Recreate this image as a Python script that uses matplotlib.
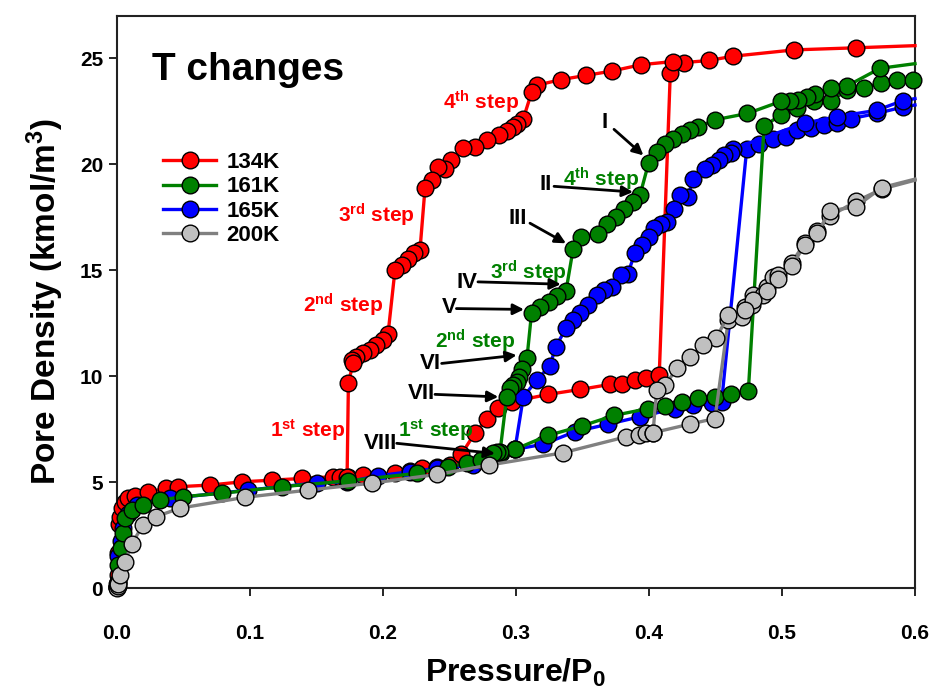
import matplotlib
matplotlib.use('Agg')
import matplotlib.pyplot as plt
from matplotlib.lines import Line2D

plt.rcParams['font.family'] = ['Liberation Sans', 'DejaVu Sans']
plt.rcParams['font.weight'] = 'bold'
plt.rcParams['mathtext.fontset'] = 'custom'
plt.rcParams['mathtext.rm'] = 'Liberation Sans:bold'
plt.rcParams['mathtext.bf'] = 'Liberation Sans:bold'
plt.rcParams['mathtext.it'] = 'Liberation Sans:bold'

# ---------------- data ----------------
labels = ['134K', '161K', '165K', '200K']

# 134 K
x134a = [0.0, 0.0003, 0.0006, 0.001, 0.0015, 0.0023, 0.0035, 0.006, 0.0085, 0.0135, 0.0235, 0.037,
         0.046, 0.07, 0.0937, 0.1163, 0.1389, 0.1627, 0.1677, 0.1737, 0.1852, 0.209, 0.2203, 0.229,
         0.2404, 0.25, 0.259, 0.269, 0.2784, 0.2867, 0.2967, 0.3243, 0.348, 0.3707, 0.380, 0.3895,
         0.398, 0.4077, 0.416]
y134a = [0.05, 0.2, 0.6, 1.64, 3.0, 3.36, 3.76, 4.07, 4.23, 4.34, 4.54, 4.7,
         4.78, 4.86, 5.01, 5.09, 5.17, 5.25, 5.25, 5.25, 5.33, 5.41, 5.54, 5.65,
         5.72, 5.8, 6.32, 7.3, 8.0, 8.48, 8.79, 9.14, 9.37, 9.61, 9.61, 9.81,
         9.89, 10.05, 24.3]
x134d = [0.6, 0.556, 0.509, 0.463, 0.445, 0.426, 0.418, 0.394, 0.372, 0.353, 0.334, 0.3155, 0.3118,
         0.3055, 0.301, 0.2975, 0.293, 0.287, 0.278, 0.269, 0.26, 0.251, 0.2466, 0.2416, 0.2366,
         0.2316, 0.2278, 0.223, 0.219, 0.214, 0.209, 0.2038, 0.2, 0.195, 0.19, 0.185, 0.18, 0.177,
         0.1775, 0.174, 0.173]
y134d = [25.6, 25.5, 25.4, 25.1, 24.9, 24.8, 24.85, 24.7, 24.4, 24.2, 24.0, 23.73, 23.41,
         22.15, 21.9, 21.75, 21.55, 21.4, 21.15, 20.8, 20.75, 20.2, 19.8, 19.87, 19.25,
         18.88, 15.95, 15.8, 15.55, 15.25, 15.0, 12.0, 11.7, 11.45, 11.25, 11.1, 10.9, 10.75,
         10.6, 9.7, 5.25]

# 161 K
x161a = [0.0, 0.0005, 0.001, 0.003, 0.0048, 0.006, 0.011, 0.0198, 0.0323, 0.0498, 0.0787, 0.1238,
         0.174, 0.2253, 0.249, 0.263, 0.274, 0.284, 0.289, 0.299, 0.324, 0.3496, 0.374, 0.3995,
         0.412, 0.4246, 0.437, 0.4496, 0.462, 0.4747, 0.4865, 0.4992, 0.5115, 0.524, 0.5366,
         0.549, 0.5617, 0.5742, 0.5867, 0.5987]
y161a = [0.05, 0.3, 1.08, 1.9, 2.58, 3.29, 3.68, 3.92, 4.15, 4.31, 4.47, 4.78,
         5.06, 5.41, 5.72, 5.88, 6.05, 6.3, 6.35, 6.54, 7.2, 7.65, 8.15, 8.47,
         8.58, 8.79, 8.95, 9.02, 9.18, 9.3, 21.8, 22.34, 22.64, 22.97, 23.0,
         23.5, 23.6, 23.84, 24.0, 24.0]
x161d = [0.6, 0.5737, 0.549, 0.5366, 0.525, 0.5186, 0.512, 0.506, 0.4992, 0.474, 0.4496, 0.437,
         0.431, 0.4246, 0.418, 0.412, 0.406, 0.3997, 0.3932, 0.388, 0.381, 0.375, 0.3686, 0.362,
         0.349, 0.343, 0.3376, 0.331, 0.325, 0.318, 0.3117, 0.3083, 0.3043, 0.3025, 0.3005, 0.298,
         0.2955, 0.293, 0.288, 0.286, 0.283]
y161d = [24.75, 24.53, 23.7, 23.6, 23.3, 23.2, 23.05, 23.0, 22.97, 22.4, 22.1, 21.76,
         21.6, 21.45, 21.2, 20.97, 20.6, 20.06, 18.54, 18.22, 17.9, 17.51, 17.17, 16.73,
         16.57, 16.02, 14.02, 13.77, 13.5, 13.27, 12.99, 10.88, 10.36, 9.94, 9.73, 9.58,
         9.42, 9.03, 6.43, 6.4, 6.35]

# 165 K
x165a = [0.0, 0.0005, 0.001, 0.003, 0.0048, 0.008, 0.015, 0.04, 0.0987, 0.15, 0.1727, 0.1965,
         0.2203, 0.2404, 0.268, 0.278, 0.2992, 0.3206, 0.344, 0.369, 0.393, 0.4195, 0.433, 0.447,
         0.4546, 0.4735, 0.483, 0.4935, 0.503, 0.5115, 0.522, 0.5316, 0.5416, 0.5516, 0.5712,
         0.5907, 0.6]
y165a = [0.05, 0.3, 1.5, 2.2, 2.82, 3.5, 3.9, 4.23, 4.62, 4.96, 5.0, 5.3,
         5.49, 5.65, 5.8, 5.96, 6.54, 6.79, 7.37, 7.73, 8.08, 8.47, 8.63, 8.71,
         8.79, 20.74, 20.98, 21.2, 21.3, 21.64, 21.7, 21.84, 21.97, 22.15, 22.4,
         22.7, 22.8]
x165d = [0.6, 0.5907, 0.5712, 0.5416, 0.5173, 0.4634, 0.4618, 0.4567, 0.4528, 0.4476, 0.4424,
         0.4334, 0.429, 0.423, 0.419, 0.4139, 0.4087, 0.4036, 0.3997, 0.3945, 0.3893, 0.3841,
         0.379, 0.3725, 0.366, 0.3608, 0.3544, 0.3479, 0.3427, 0.3375, 0.3298, 0.3256, 0.3155,
         0.3055, 0.2992]
y165d = [23.1, 23.0, 22.55, 22.25, 21.95, 20.74, 20.53, 20.42, 20.19, 19.95, 19.8,
         19.32, 18.46, 18.54, 17.91, 17.28, 17.2, 16.97, 16.57, 16.18, 15.79, 14.84,
         14.76, 14.21, 14.06, 13.82, 13.35, 12.96, 12.64, 12.25, 11.38, 10.5, 9.8,
         9.02, 6.54]

# 200 K
x200a = [0.0, 0.0005, 0.001, 0.0023, 0.006, 0.011, 0.0195, 0.0293, 0.0474, 0.0962, 0.1436, 0.1917,
         0.2406, 0.2796, 0.335, 0.383, 0.3927, 0.398, 0.403, 0.431, 0.4496, 0.4596, 0.4697,
         0.4722, 0.4772, 0.4784, 0.4859, 0.4884, 0.4934, 0.4972, 0.5072, 0.5173, 0.5266, 0.536,
         0.5556, 0.575, 0.6]
y200a = [0.02, 0.1, 0.2, 0.6, 1.24, 2.07, 2.97, 3.37, 3.77, 4.28, 4.62, 4.95,
         5.36, 5.8, 6.38, 7.14, 7.22, 7.3, 7.33, 7.74, 8.0, 12.64, 12.77,
         13.27, 13.35, 13.82, 13.82, 14.21, 14.69, 14.76, 15.36, 16.29, 16.86, 17.55,
         18.25, 18.83, 19.25]
x200d = [0.6, 0.575, 0.5556, 0.536, 0.5266, 0.5173, 0.5072, 0.4972, 0.4884, 0.4784, 0.4722,
         0.4596, 0.4504, 0.4408, 0.4308, 0.4213, 0.412, 0.4058, 0.403]
y200d = [19.3, 18.9, 18.0, 17.8, 16.75, 16.2, 15.2, 14.6, 14.0, 13.6, 13.1,
         12.88, 11.78, 11.46, 10.91, 10.39, 9.58, 9.34, 7.33]

series = {
    '134K': (x134a, y134a, x134d, y134d),
    '161K': (x161a, y161a, x161d, y161d),
    '165K': (x165a, y165a, x165d, y165d),
    '200K': (x200a, y200a, x200d, y200d),
}
line_colors = {'134K': '#FF0000', '161K': '#008000', '165K': '#0000FF', '200K': '#808080'}
face_colors = {'134K': '#FF0000', '161K': '#008000', '165K': '#0000FF', '200K': '#C0C0C0'}
zorders = {'134K': 3, '161K': 5, '165K': 4, '200K': 6}

xticks = [0.0, 0.1, 0.2, 0.3, 0.4, 0.5, 0.6]
yticks = [0, 5, 10, 15, 20, 25]

# ---------------- figure ----------------
fig = plt.figure(figsize=(9.34, 6.93), dpi=100)
ax = fig.add_axes([117 / 934, 105 / 693, 798 / 934, 572 / 693])

MS = 12
LW = 2.4
for name in labels:
    xa, ya, xd, yd = series[name]
    for xs, ys in ((xa, ya), (xd, yd)):
        ax.plot(xs, ys, '-', color=line_colors[name], lw=LW, marker='o', ms=MS,
                mfc=face_colors[name], mec='black', mew=1.0,
                markevery=[v < 0.5995 for v in xs], clip_on=False,
                zorder=zorders[name])

ax.set_xlim(0, 0.6)
ax.set_ylim(0, 27)
ax.set_xticks(xticks)
ax.set_xticklabels([f'{v:.1f}' for v in xticks])
ax.set_yticks(yticks)
ax.set_yticklabels([str(v) for v in yticks])
ax.tick_params(axis='x', direction='out', length=6, width=1.2, pad=20, labelsize=15)
ax.tick_params(axis='y', direction='out', length=6, width=1.2, pad=4, labelsize=15)
for s in ax.spines.values():
    s.set_linewidth(1.5)
    s.set_color('#222222')

ax.set_xlabel(r'Pressure/P$_{\mathbf{0}}$', fontsize=23, fontweight='bold', labelpad=10)
ax.set_ylabel(r'Pore Density (kmol/m$^{\mathbf{3}}$)', fontsize=24, fontweight='bold', labelpad=10)

ax.text(0.0263, 23.96, 'T changes', fontsize=28, fontweight='bold', ha='left', va='baseline')

handles = [Line2D([], [], color=line_colors[n], lw=LW, marker='o', ms=MS, mfc=face_colors[n],
                  mec='black', mew=1.0) for n in labels]
fig.legend(handles, labels, loc='upper left', bbox_to_anchor=(163 / 934, 1 - 152 / 693),
           frameon=False, fontsize=16, handlelength=2.4, handletextpad=0.45, labelspacing=0.15,
           borderpad=0, borderaxespad=0)

# step labels
red_steps = [(0.245, 22.6, '4'), (0.166, 17.26, '3'), (0.140, 13.02, '2'), (0.115, 7.12, '1')]
green_steps = [(0.3353, 18.96, '4'), (0.2801, 14.58, '3'), (0.2391, 11.32, '2'), (0.2113, 7.12, '1')]
suffix = {'1': 'st', '2': 'nd', '3': 'rd', '4': 'th'}
for lst, col in ((red_steps, '#FF0000'), (green_steps, '#008000')):
    for x, y, n in lst:
        ax.text(x, y, n + r'$^{\mathbf{' + suffix[n] + r'}}$ step', color=col, fontsize=15,
                fontweight='bold', ha='left', va='baseline', zorder=10)

# roman numeral arrows: (label, text center, arrow start, arrow end)
romans = [
    ('I', (0.3665, 21.98), (0.3737, 21.65), (0.3958, 20.42)),
    ('II', (0.3226, 19.06), (0.3286, 18.96), (0.388, 18.69)),
    ('III', (0.3011, 17.45), (0.3105, 17.22), (0.3376, 16.27)),
    ('IV', (0.2628, 14.43), (0.2714, 14.45), (0.3337, 14.34)),
    ('V', (0.2496, 13.25), (0.2552, 13.19), (0.306, 13.15)),
    ('VI', (0.2353, 10.61), (0.2441, 10.60), (0.3005, 10.99)),
    ('VII', (0.2290, 9.20), (0.2391, 9.14), (0.2867, 9.02)),
    ('VIII', (0.1981, 6.84), (0.2103, 6.83), (0.2842, 6.35)),
]
for lab, tc, a0, a1 in romans:
    ax.text(tc[0], tc[1], lab, fontsize=16, fontweight='bold', ha='center', va='center', zorder=10)
    ax.annotate('', xy=a1, xytext=a0,
                arrowprops=dict(arrowstyle='-|>', color='black', lw=2.0, mutation_scale=16,
                                shrinkA=0, shrinkB=0), zorder=10)

fig.savefig('out.png', dpi=100)
